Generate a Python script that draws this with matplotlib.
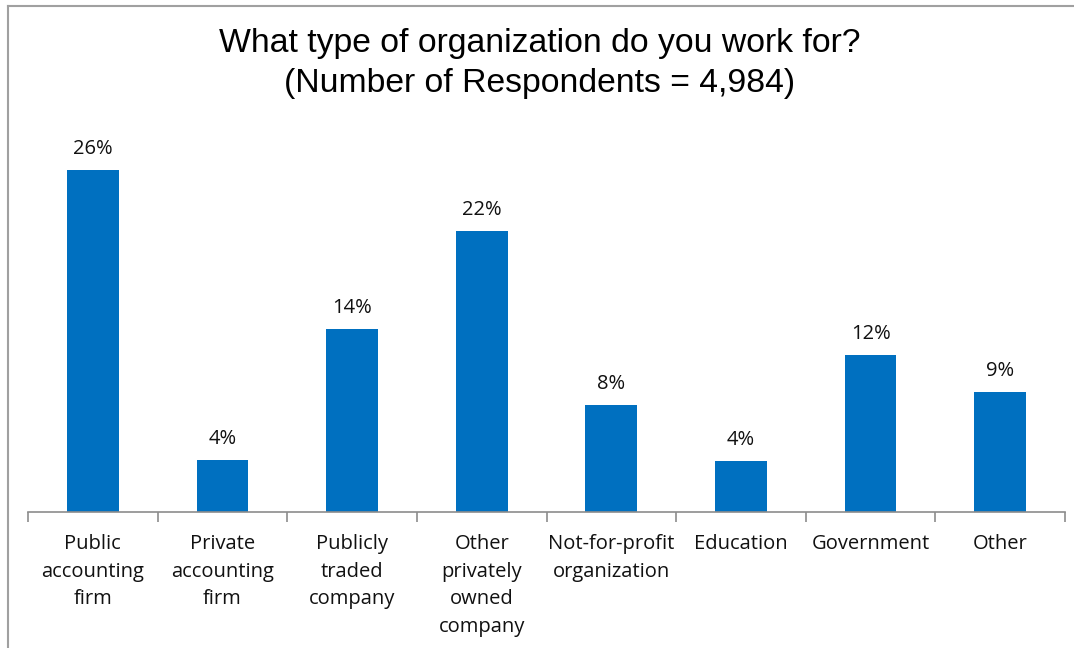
import matplotlib.pyplot as plt
from matplotlib.lines import Line2D
from matplotlib import font_manager

categories = [
    "Public\naccounting\nfirm",
    "Private\naccounting\nfirm",
    "Publicly\ntraded\ncompany",
    "Other\nprivately\nowned\ncompany",
    "Not-for-profit\norganization",
    "Education",
    "Government",
    "Other",
]
shares = [26.4, 4.0, 14.1, 21.7, 8.3, 3.9, 12.1, 9.3]

installed = {f.name for f in font_manager.fontManager.ttflist}
title_font = "Liberation Sans Narrow" if "Liberation Sans Narrow" in installed else "Liberation Sans"
label_font = "Open Sans"

W, H = 1074, 648
fig = plt.figure(figsize=(W / 100, H / 100), dpi=100)
ax = fig.add_axes([28 / W, 136 / H, (1065 - 28) / W, (512 - 123.5) / H])

x = range(len(categories))
bars = ax.bar(x, shares, width=0.4, color="#0070C0")
for rect, v in zip(bars, shares):
    ax.text(rect.get_x() + rect.get_width() / 2, v + 0.85, f"{v:.0f}%",
            ha="center", va="bottom", fontsize=14.5, family=label_font, color="#111111")

ax.set_xlim(-0.5, len(categories) - 0.5)
ax.set_ylim(0, 30)
ax.set_yticks([])
for s in ["top", "right", "left"]:
    ax.spines[s].set_visible(False)
ax.spines["bottom"].set_color("#8c8c8c")
ax.spines["bottom"].set_linewidth(1.2)

# tick marks sit on category boundaries, labels sit under the bars
ax.set_xticks([i - 0.5 for i in range(len(categories) + 1)], minor=False)
ax.set_xticklabels([])
ax.tick_params(axis="x", which="major", length=7, color="#8c8c8c", width=1.2)
for i, name in enumerate(categories):
    ax.text(i, -1.7, name, ha="center", va="top", fontsize=14.5, family=label_font,
            color="#111111", linespacing=1.5)

fig.text(540 / W, 1 - 63.5 / H, "What type of organization do you work for?\n(Number of Respondents = 4,984)",
         ha="center", va="center", fontsize=24.3, family=title_font, linespacing=1.4)

# chart area border (top and left edges)
fig.add_artist(Line2D([8 / W, 1], [1 - 6 / H, 1 - 6 / H], color="#a0a0a0", lw=1.5))
fig.add_artist(Line2D([8 / W, 8 / W], [0, 1 - 6 / H], color="#a0a0a0", lw=1.5))

fig.savefig("out.png", dpi=100)
